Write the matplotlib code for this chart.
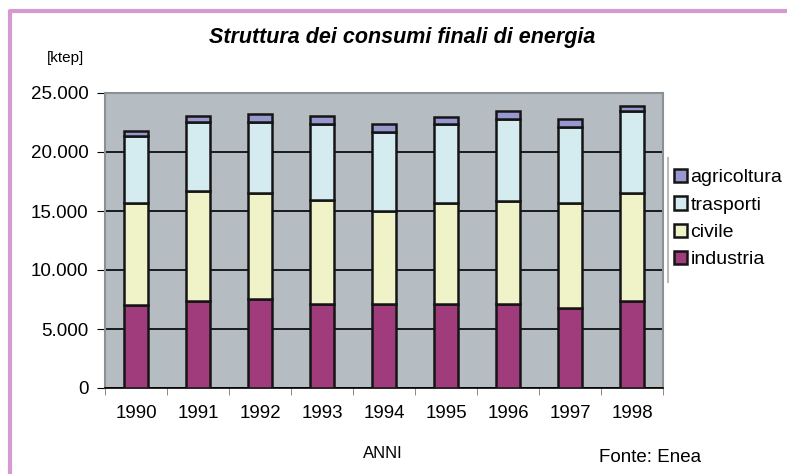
import matplotlib
matplotlib.use("Agg")
import matplotlib.pyplot as plt
from matplotlib.lines import Line2D
from matplotlib.ticker import FuncFormatter
import numpy as np

plt.rcParams["font.family"] = ["Liberation Sans", "DejaVu Sans"]

anni = ["1990", "1991", "1992", "1993", "1994", "1995", "1996", "1997", "1998"]
industria = [7060, 7340, 7510, 7080, 7080, 7080, 7080, 6800, 7340]
civile = [8660, 9380, 9010, 8840, 7920, 8580, 8790, 8860, 9180]
trasporti = [5660, 5860, 6060, 6460, 6700, 6690, 6910, 6440, 6920]
agricoltura = [420, 490, 660, 690, 680, 650, 720, 680, 430]

serie = [
    ("industria", industria, "#a03c7c"),
    ("civile", civile, "#f0f2c8"),
    ("trasporti", trasporti, "#d4ecf0"),
    ("agricoltura", agricoltura, "#9898d0"),
]

W, H = 787, 474
fig = plt.figure(figsize=(W / 100, H / 100), dpi=100)
# area del grafico in pixel
x0, x1, y0, y1 = 105, 663, 93, 388
ax = fig.add_axes([x0 / W, 1 - y1 / H, (x1 - x0) / W, (y1 - y0) / H])
ax.set_facecolor("#b5bcc2")

x = np.arange(len(anni))
bottom = np.zeros(len(anni))
handles = []
for nome, vals, col in serie:
    b = ax.bar(x, vals, width=0.4, bottom=bottom, color=col,
               edgecolor="#151515", linewidth=1.8, label=nome, zorder=3)
    bottom += np.array(vals)
    handles.append(b)

ax.set_xlim(-0.5, len(anni) - 0.5)
ax.set_ylim(0, 25000)
ax.set_yticks(np.arange(0, 25001, 5000))
ax.yaxis.set_major_formatter(FuncFormatter(lambda v, p: f"{int(v):,}".replace(",", ".")))
ax.yaxis.grid(True, color="black", linewidth=1.2, zorder=1)
ax.set_axisbelow(True)

ax.set_xticks(x)
ax.set_xticklabels(anni)
ax.set_xticks(np.arange(-0.5, len(anni) - 0.4, 1), minor=True)
ax.tick_params(axis="x", which="major", length=0, pad=12, labelsize=13.5)
ax.tick_params(axis="x", which="minor", length=5, color="#777777")
ax.tick_params(axis="y", length=6, pad=6, labelsize=13.5, color="black")

for s in ["top", "right", "left"]:
    ax.spines[s].set_color("#8a9094")
    ax.spines[s].set_linewidth(1.5)
ax.spines["bottom"].set_color("black")
ax.spines["bottom"].set_linewidth(1.2)

fig.text(402 / W, 1 - 38 / H, "Struttura dei consumi finali di energia",
         ha="center", va="center", fontsize=15.5, fontweight="bold", fontstyle="italic")
fig.text(47 / W, 1 - 58 / H, "[ktep]", ha="left", va="center", fontsize=11)
fig.text(383 / W, 1 - 453 / H, "ANNI", ha="center", va="center", fontsize=12)
fig.text(650 / W, 1 - 457 / H, "Fonte: Enea", ha="center", va="center", fontsize=13.5)

leg = fig.legend(handles[::-1], [s[0] for s in serie][::-1],
                 loc="upper left", bbox_to_anchor=(668 / W, 1 - 163 / H),
                 frameon=False, fontsize=14, handlelength=0.7, handleheight=0.7,
                 handletextpad=0.15, labelspacing=0.5, borderaxespad=0, borderpad=0.3)

# bordo sinistro della legenda e cornice rosa
fig.add_artist(Line2D([668 / W, 668 / W], [1 - 158 / H, 1 - 282 / H],
                      color="#bbbbbb", linewidth=1.5))
fig.add_artist(Line2D([10 / W, 10 / W, 1.0], [0.0, 1 - 11 / H, 1 - 11 / H],
                      color="#d59ad0", linewidth=3))

fig.savefig("out.png", dpi=100)
